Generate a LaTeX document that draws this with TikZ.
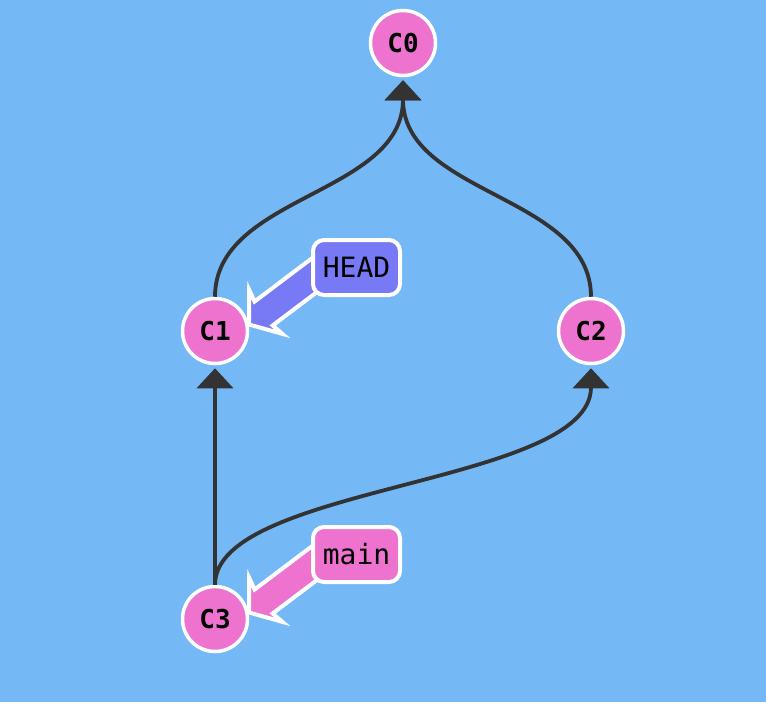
\documentclass[tikz,border=0pt]{standalone}
\usepackage{fontspec}
\newfontfamily\monofont{DejaVu Sans Mono}
\usetikzlibrary{arrows.meta,calc}
\definecolor{bgblue}{HTML}{74B8F5}
\definecolor{cpink}{HTML}{EE73CF}
\definecolor{hblue}{HTML}{787AF5}
\definecolor{edgec}{HTML}{333333}
\tikzset{
  commit/.style={circle, fill=cpink, draw=white, line width=3.5pt, minimum size=65pt, inner sep=0pt,
    font=\monofont\bfseries\fontsize{26}{26}\selectfont},
  edge/.style={draw=edgec, line width=3.8pt, -{Triangle[width=36pt,length=20pt]}},
  refbox/.style={rectangle, rounded corners=11pt, draw=white, line width=4pt, minimum width=87pt,
    minimum height=55pt, inner sep=0pt, font=\monofont\fontsize{28}{28}\selectfont},
  blockarrow/.style={draw=white, line width=4pt, line join=miter, miter limit=20},
}
\begin{document}
\begin{tikzpicture}[x=1pt,y=-1pt]
\fill[bgblue] (0,0) rectangle (766,702);
\useasboundingbox (0,0) rectangle (766,702);
% commits
\node[commit] (c0) at (403,43) {C0};
\node[commit] (c1) at (215,331) {C1};
\node[commit] (c2) at (591,331) {C2};
\node[commit] (c3) at (215,619) {C3};
% edges
\draw[edge] (c1.north) .. controls (215,195) and (403,195) .. ($(c0.south)+(0,3)$);
\draw[edge] (c2.north) .. controls (591,195) and (403,195) .. ($(c0.south)+(0,3)$);
\draw[edge] (c3.north) -- ($(c1.south)+(0,3)$);
\draw[edge] (c3.north) .. controls (215,485) and (591,485) .. ($(c2.south)+(0,3)$);
% HEAD ref
\coordinate (headtip) at (247,326);
\begin{scope}[shift={(headtip)}, rotate=37]
  \filldraw[blockarrow, fill=hblue] (2.5,0) -- (23.5,27.5) -- (20.8,15) -- (100,15) -- (100,-15) -- (20.8,-15) -- (23.5,-27.5) -- cycle;
\end{scope}
\node[refbox, fill=hblue] (head) at (356.5,267.5) {HEAD};
% main ref
\coordinate (maintip) at (247,614);
\begin{scope}[shift={(maintip)}, rotate=37]
  \filldraw[blockarrow, fill=cpink] (2.5,0) -- (23.5,27.5) -- (20.8,15) -- (100,15) -- (100,-15) -- (20.8,-15) -- (23.5,-27.5) -- cycle;
\end{scope}
\node[refbox, fill=cpink] (main) at (356.5,554.5) {main};
\end{tikzpicture}
\end{document}
